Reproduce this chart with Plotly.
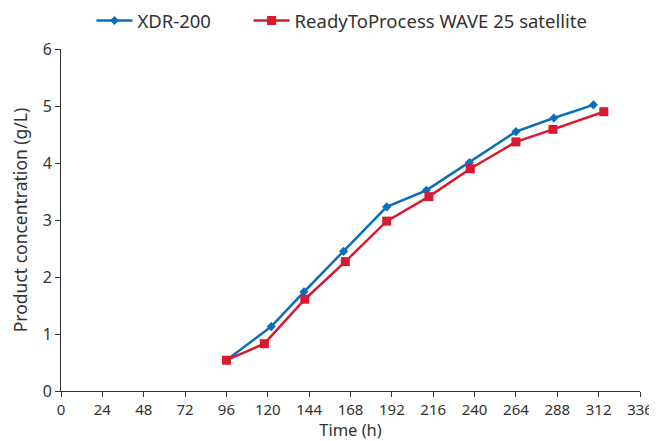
import plotly.graph_objects as go

# Data
xdr_time = [96, 122, 141, 164, 189, 212, 237, 264, 286, 309]
xdr_conc = [0.54, 1.13, 1.74, 2.45, 3.23, 3.52, 4.01, 4.55, 4.79, 5.02]

wave_time = [96, 118, 141.5, 165, 189, 213.5, 237.5, 264, 285.5, 315]
wave_conc = [0.54, 0.83, 1.61, 2.27, 2.98, 3.41, 3.90, 4.37, 4.59, 4.90]

x_ticks = list(range(0, 337, 24))
y_ticks = [0, 1, 2, 3, 4, 5, 6]

BLUE = "#0A6FBB"
RED = "#D8192F"
TXT = "#333333"
FONT = "Noto Sans"

fig = go.Figure()
fig.add_trace(go.Scatter(
    x=xdr_time, y=xdr_conc, name="XDR-200", mode="lines+markers",
    line=dict(color=BLUE, width=2.5),
    marker=dict(symbol="diamond", size=7, color=BLUE),
    legend="legend",
))
fig.add_trace(go.Scatter(
    x=wave_time, y=wave_conc, name="ReadyToProcess WAVE 25 satellite",
    mode="lines+markers",
    line=dict(color=RED, width=2.5),
    marker=dict(symbol="square", size=9, color=RED),
    legend="legend2",
))

leg_common = dict(
    orientation="h", xanchor="left", y=1.082, yanchor="middle",
    font=dict(family=FONT, size=18.5, color=TXT),
    bgcolor="rgba(0,0,0,0)", itemwidth=36,
)

# page body has an 8px margin: compensate so the plot lands where the reference's does
fig.update_layout(
    width=649, height=433,
    margin=dict(l=53, r=17, t=41, b=50, autoexpand=False),
    paper_bgcolor="white", plot_bgcolor="white",
    font=dict(family=FONT, color=TXT, size=15),
    showlegend=True,
    legend=dict(x=0.0525, **leg_common),
    legend2=dict(x=0.324, **leg_common),
    xaxis=dict(
        range=[0, 336], tickvals=x_ticks, ticktext=[str(v) for v in x_ticks],
        showgrid=False, zeroline=False, showline=True, linecolor="#333333",
        linewidth=1, ticks="outside", ticklen=5, tickcolor="#333333",
        tickfont=dict(size=15, color=TXT), automargin=False,
        title=dict(text="Time (h)", font=dict(size=16.5, color=TXT), standoff=5),
    ),
    yaxis=dict(
        range=[0, 6], tickvals=y_ticks, ticktext=[str(v) for v in y_ticks],
        showgrid=False, zeroline=False, showline=True, linecolor="#333333",
        linewidth=1, ticks="outside", ticklen=5, tickcolor="#333333",
        tickfont=dict(size=16, color=TXT), automargin=False,
        title=dict(text="Product concentration (g/L)", font=dict(size=17.5, color=TXT), standoff=13),
    ),
)

fig.write_html("out.html")
